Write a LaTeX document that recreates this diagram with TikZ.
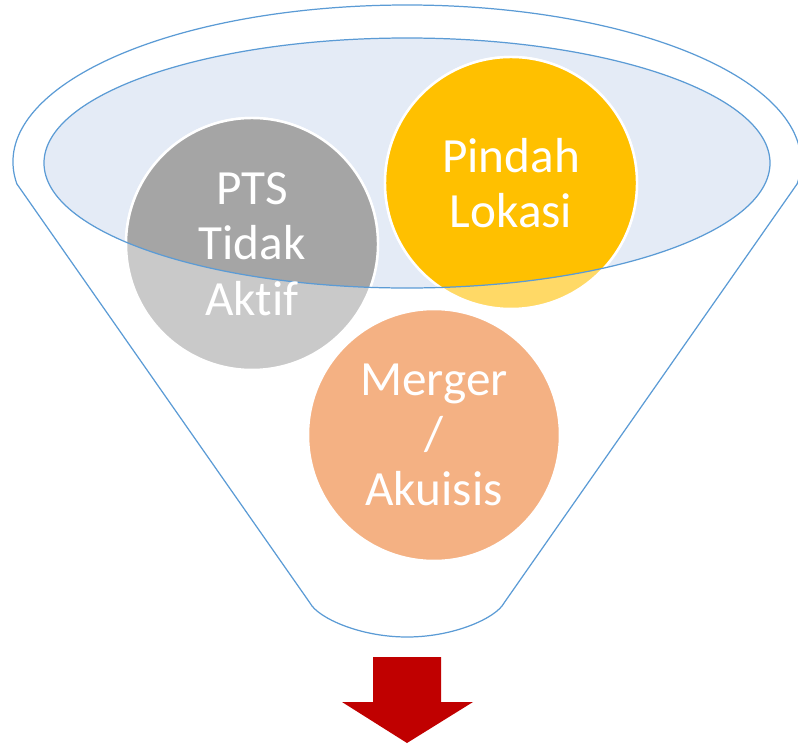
\documentclass[tikz,border=0pt]{standalone}
\usepackage{fontspec}
\setmainfont{Carlito}[Ligatures={NoCommon}]
\usepackage{tikz}
\usetikzlibrary{calc}
\definecolor{edge}{HTML}{5B9BD5}
\definecolor{mouth}{HTML}{E4EBF6}
\definecolor{grayD}{HTML}{A5A5A5}
\definecolor{grayL}{HTML}{C9C9C9}
\definecolor{goldD}{HTML}{FFC000}
\definecolor{goldL}{HTML}{FFD966}
\definecolor{orangeD}{HTML}{ED7D31}
\definecolor{orangeL}{HTML}{F4B183}
\definecolor{down}{HTML}{C00000}
\tikzset{
  rim/.style={draw=edge, line width=0.7pt, line join=round},
  ball/.style={circle, draw=white, line width=1.4pt, minimum size=5.04cm, inner sep=0pt},
  lab/.style={text=white, align=center, font=\fontsize{28}{31.5}\selectfont},
}

\begin{document}
\begin{tikzpicture}[x=0.02cm, y=0.02cm]
  \useasboundingbox (0,0) rectangle (798,-744);
  \clip (0,0) rectangle (798,-744);
  \coordinate (M) at (407,-163);
  \coordinate (Lt) at ($(407,-162)+(188:394 and 157)$);
  \coordinate (Rt) at ($(407,-162)+(-8:394 and 157)$);
  \coordinate (Lb) at (310,-603);
  \coordinate (Rb) at (504,-603);
  \coordinate (B) at (407,-637);
  % funnel mouth and body
  \fill[mouth] (M) ellipse (363 and 125);
  \draw[rim] (Lt) arc[start angle=188, end angle=-8, x radius=394, y radius=157]
    -- (Rb) .. controls (496,-618) and (454,-637) .. (B)
    .. controls (360,-637) and (318,-618) .. (Lb) -- cycle;
  % balls, light part below the mouth
  \node[ball, fill=grayL] (pts) at (252,-244) {};
  \node[ball, fill=goldL] (pindah) at (511,-183) {};
  \node[ball, fill=orangeL] (merger) at (434,-435) {};
  % dark part inside the mouth
  \begin{scope}
    \clip (M) ellipse (363 and 125);
    \filldraw[draw=white, line width=1.4pt, fill=grayD] (pts.center) circle (126);
    \filldraw[draw=white, line width=1.4pt, fill=goldD] (pindah.center) circle (126);
  \end{scope}
  \draw[rim] (M) ellipse (363 and 125);
  \node[lab] at (pts) {PTS\\Tidak\\Aktif};
  \node[lab] at (pindah) {Pindah\\Lokasi};
  \node[lab] at (merger) {Merger\\/\\Akuisis};
  % arrow below
  \fill[down] (373,-657) -- (441,-657) -- (441,-702) -- (473,-702) -- (407,-743)
    -- (342,-702) -- (373,-702) -- cycle;
\end{tikzpicture}
\end{document}
